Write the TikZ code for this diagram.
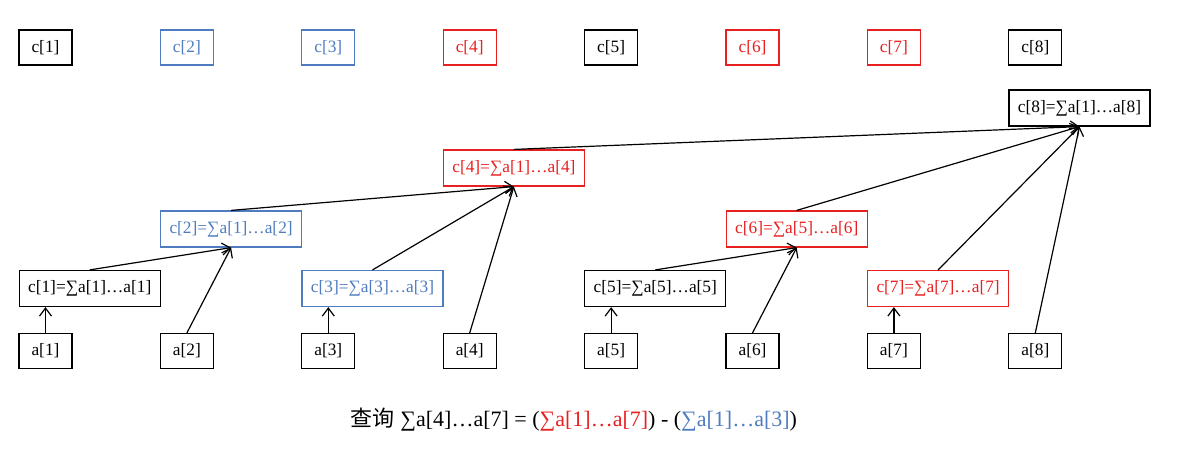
\documentclass[tikz,border=0pt]{standalone}
\usepackage{fontspec}
\setmainfont{Liberation Serif}
\newfontfamily\cjk{Noto Sans CJK SC}
\usepackage{xcolor}
\usetikzlibrary{arrows.meta,positioning,calc}
\definecolor{fwred}{RGB}{232,32,32}
\definecolor{fwblue}{RGB}{79,124,192}

\begin{document}
\begin{tikzpicture}[
		x=0.75pt, y=-0.75pt,
		cell/.style={draw, line width=0.9pt, minimum width=39.75pt, minimum height=26.25pt, inner sep=1pt, font=\fontsize{13}{15}\selectfont},
		sumbox/.style={draw, line width=0.9pt, minimum width=105.75pt, minimum height=27pt, inner sep=1pt, font=\fontsize{13}{15}\selectfont},
		hlred/.style={draw=fwred, text=fwred},
		hlblue/.style={draw=fwblue, text=fwblue},
		link/.style={-{Straight Barb[length=6pt,width=9pt]}, line width=0.9pt}
	]

	\useasboundingbox (0,0) rectangle (1180,451);

	% top row
	\node[cell] (t1) at (45.5,47.5) {c[1]};
	\node[cell, hlblue] (t2) at (186.9,47.5) {c[2]};
	\node[cell, hlblue] (t3) at (328.3,47.5) {c[3]};
	\node[cell, hlred] (t4) at (469.7,47.5) {c[4]};
	\node[cell] (t5) at (611.1,47.5) {c[5]};
	\node[cell, hlred] (t6) at (752.5,47.5) {c[6]};
	\node[cell, hlred] (t7) at (893.9,47.5) {c[7]};
	\node[cell] (t8) at (1035.3,47.5) {c[8]};

	% a row
	\node[cell] (a1) at (45.5,351) {a[1]};
	\node[cell] (a2) at (186.9,351) {a[2]};
	\node[cell] (a3) at (328.3,351) {a[3]};
	\node[cell] (a4) at (469.7,351) {a[4]};
	\node[cell] (a5) at (611.1,351) {a[5]};
	\node[cell] (a6) at (752.5,351) {a[6]};
	\node[cell] (a7) at (893.9,351) {a[7]};
	\node[cell] (a8) at (1035.3,351) {a[8]};

	% tree
	\node[sumbox] (c1) at (89.7,288.5) {c[1]=∑a[1]…a[1]};
	\node[sumbox, hlblue] (c2) at (231.1,229) {c[2]=∑a[1]…a[2]};
	\node[sumbox, hlblue] (c3) at (372.5,288.5) {c[3]=∑a[3]…a[3]};
	\node[sumbox, hlred] (c4) at (513.9,168) {c[4]=∑a[1]…a[4]};
	\node[sumbox] (c5) at (655.3,288.5) {c[5]=∑a[5]…a[5]};
	\node[sumbox, hlred] (c6) at (796.7,229) {c[6]=∑a[5]…a[6]};
	\node[sumbox, hlred] (c7) at (938.1,288.5) {c[7]=∑a[7]…a[7]};
	\node[sumbox] (c8) at (1079.5,108) {c[8]=∑a[1]…a[8]};

	\draw[link] (a1.north) -- (a1.north |- c1.south);
	\draw[link] (a3.north) -- (a3.north |- c3.south);
	\draw[link] (a5.north) -- (a5.north |- c5.south);
	\draw[link] (a7.north) -- (a7.north |- c7.south);
	\draw[link] (c1.north) -- (c2.south);
	\draw[link] (a2.north) -- (c2.south);
	\draw[link] (c2.north) -- (c4.south);
	\draw[link] (c3.north) -- (c4.south);
	\draw[link] (a4.north) -- (c4.south);
	\draw[link] (c5.north) -- (c6.south);
	\draw[link] (a6.north) -- (c6.south);
	\draw[link] (c4.north) -- (c8.south);
	\draw[link] (c6.north) -- (c8.south);
	\draw[link] (c7.north) -- (c8.south);
	\draw[link] (a8.north) -- (c8.south);

	\node[font=\fontsize{16.5}{20}\selectfont] (query) at (574,420) {{\cjk 查询} ∑a[4]…a[7] = ({\color{fwred}∑a[1]…a[7]}) - ({\color{fwblue}∑a[1]…a[3]})};

\end{tikzpicture}
\end{document}
